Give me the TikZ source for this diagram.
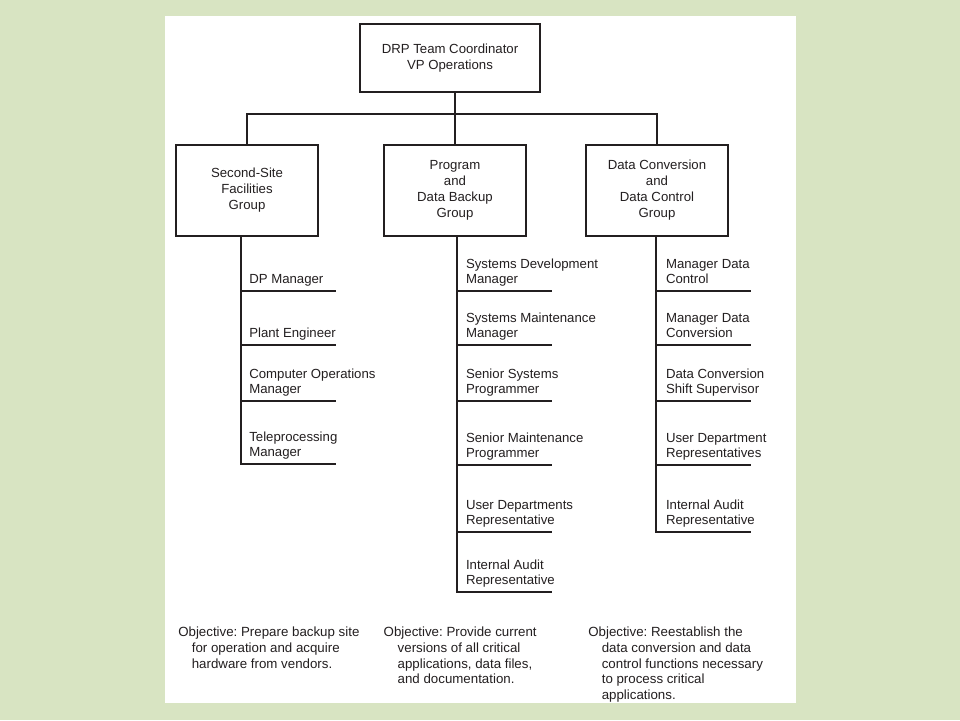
\documentclass[tikz,border=0pt]{standalone}
\usepackage{fontspec}
\setmainfont{Liberation Sans}
\usetikzlibrary{positioning}
\definecolor{slidegreen}{RGB}{216,228,194}
\definecolor{inkgray}{RGB}{35,31,32}
\frenchspacing

\begin{document}
\begin{tikzpicture}[x=1pt,y=-1pt,line width=2pt,color=inkgray,
    box/.style={draw,align=center,inner sep=0pt,font=\fontsize{13.2}{16}\selectfont,
        minimum width=142pt,minimum height=91pt},
    role/.style={anchor=south west,align=left,inner sep=0pt,font=\fontsize{13.2}{15.5}\selectfont},
    goal/.style={anchor=north west,align=left,inner sep=0pt,font=\fontsize{13.3}{15.6}\selectfont}]
    \useasboundingbox (0,0) rectangle (960,720);
    \fill[slidegreen] (0,0) rectangle (960,720);
    \fill[white] (165,16) rectangle (796,703);

    \node[box,minimum width=180pt,minimum height=68pt] (drp) at (450,58) {DRP Team Coordinator\\VP Operations};
    \node[box] (ssf) at (247,190.5) {Second-Site\\Facilities\\Group};
    \node[box] (pdb) at (455,190.5) {Program\\and\\Data Backup\\Group};
    \node[box] (dcc) at (657,190.5) {Data Conversion\\and\\Data Control\\Group};
    \draw
    (pdb.north) -- (pdb.north |- drp.south)
    (ssf.north) -- ++(0,-30) -| (dcc.north);

    \foreach \y/\name/\txt in {291/dpm/DP Manager, 345/pe/Plant Engineer,
        401/com/{Computer Operations\\Manager}, 464/tpm/{Teleprocessing\\Manager}} {
        \coordinate (\name) at (241,\y);
        \node[role] (\name-t) at (248.3,\y-1.4) {\txt\strut};
        \draw (\name) -- ++(95,0);
    }
    \draw[line cap=rect] (ssf.south -| tpm) -- (tpm);

    \foreach \y/\name/\txt in {291/sdm/{Systems Development\\Manager}, 345/smm/{Systems Maintenance\\Manager},
        401/ssp/{Senior Systems\\Programmer}, 465/smp/{Senior Maintenance\\Programmer},
        532/udr/{User Departments\\Representative}, 592/iar/{Internal Audit\\Representative}} {
        \coordinate (\name) at (457,\y);
        \node[role] (\name-t) at (465,\y-1.4) {\txt\strut};
        \draw (\name) -- ++(95,0);
    }
    \draw[line cap=rect] (pdb.south -| iar) -- (iar);

    \foreach \y/\name/\txt in {291/mdc/{Manager Data\\Control}, 345/mdv/{Manager Data\\Conversion},
        401/dcs/{Data Conversion\\Shift Supervisor}, 465/udp/{User Department\\Representatives},
        532/iap/{Internal Audit\\Representative}} {
        \coordinate (\name) at (656,\y);
        \node[role] (\name-t) at (665,\y-1.4) {\txt\strut};
        \draw (\name) -- ++(95,0);
    }
    \draw[line cap=rect] (dcc.south -| iap) -- (iap);

    \node[goal] (ssfgoal) at (177.3,625) {Objective: Prepare backup site\strut\\
        \hspace*{13.5pt}for operation and acquire\\
        \hspace*{13.5pt}hardware from vendors.};
    \node[goal] (pdbgoal) at (382.7,625) {Objective: Provide current\strut\\
        \hspace*{14pt}versions of all critical\\
        \hspace*{14pt}applications, data files,\\
        \hspace*{14pt}and documentation.};
    \node[goal] (dccgoal) at (587.3,625) {Objective: Reestablish the\strut\\
        \hspace*{13.5pt}data conversion and data\\
        \hspace*{13.5pt}control functions necessary\\
        \hspace*{13.5pt}to process critical\\
        \hspace*{13.5pt}applications.};
\end{tikzpicture}
\end{document}
